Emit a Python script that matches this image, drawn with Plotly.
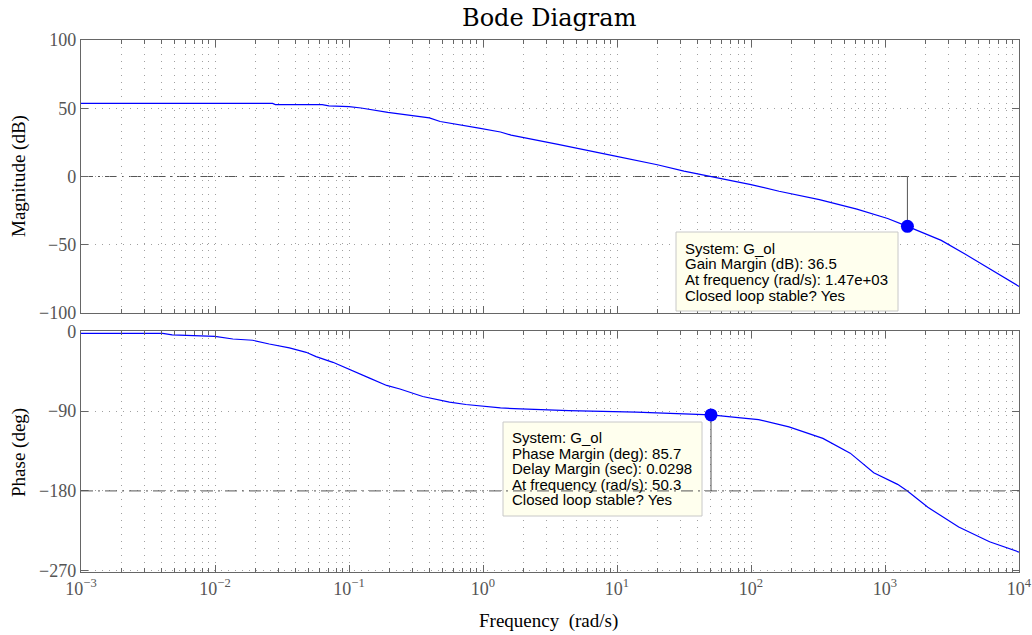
import plotly.graph_objects as go

# ---------------- data ----------------
freq_mag = [0.001, 0.0269, 0.0282, 0.0631, 0.0708, 0.1, 0.123, 0.195, 0.398, 0.479,
            0.933, 1.35, 1.62, 2.43, 3.63, 9.33, 20.0, 31.6, 56.2, 100,
            162, 324, 617, 1047, 1470, 1995, 2630, 3981, 5623, 10000]
mag_db = [53.6, 53.5, 52.7, 52.6, 51.8, 51.2, 50.2, 47.0, 42.9, 40.3,
          35.4, 32.6, 30.3, 27.1, 23.6, 15.3, 8.6, 3.9, -1.0, -5.9,
          -10.8, -17.0, -23.9, -30.8, -36.5, -41.9, -46.8, -57.0, -65.8, -80.5]

freq_phase = [0.001, 0.00407, 0.00479, 0.01, 0.0136, 0.0191, 0.0254, 0.0359, 0.0479, 0.0568,
              0.0759, 0.0977, 0.141, 0.191, 0.240, 0.355, 0.501, 0.562, 0.746, 1.0,
              1.35, 1.91, 4.35, 13.9, 25.1, 35.5, 50.3, 80.2, 114, 192,
              344, 550, 824, 1242, 1470, 2089, 2630, 3548, 6026, 10000]
phase_deg = [-2.2, -2.2, -4.0, -5.6, -8.6, -10.0, -14.2, -18.7, -23.6, -28.5,
             -34.9, -42.4, -52.5, -61.0, -65.0, -73.5, -78.0, -79.9, -82.5, -84.7,
             -86.4, -87.4, -89.3, -91.1, -92.2, -93.6, -94.3, -97.2, -99.6, -107.8,
             -120.7, -137.4, -159.6, -172.6, -180.0, -198.5, -207.8, -220.7, -237.4, -249.0]

gm_freq = [1470]
gm_db = [-36.5]
pm_freq = [50.3]
pm_phase = [-94.3]
zero_db = [0]
minus180 = [-180]

x_tickvals = [1e-3, 1e-2, 1e-1, 1e0, 1e1, 1e2, 1e3, 1e4]
x_ticktext = ["10<sup>\u22123</sup>", "10<sup>\u22122</sup>", "10<sup>\u22121</sup>",
              "10<sup>0</sup>", "10<sup>1</sup>", "10<sup>2</sup>", "10<sup>3</sup>", "10<sup>4</sup>"]
mag_ticks = [-100, -50, 0, 50, 100]
phase_ticks = [-270, -180, -90, 0]

gm_lines = ["System: G_ol", "Gain Margin (dB): 36.5",
            "At frequency (rad/s): 1.47e+03", "Closed loop stable? Yes"]
pm_lines = ["System: G_ol", "Phase Margin (deg): 85.7", "Delay Margin (sec): 0.0298",
            "At frequency (rad/s): 50.3", "Closed loop stable? Yes"]

# ---------------- layout helpers ----------------
W, H = 1032, 635
L, R, T, B = 81, 13, 40, 63
PW, PH = W - L - R, H - T - B


def pxx(x):
    return (x - L) / PW


def pxy(y):
    return (H - B - y) / PH


SERIF = "Liberation Serif, Times New Roman, serif"
SANS = "Liberation Sans, Arial, sans-serif"
BLUE = "#0000ff"
AXC = "#666666"
GRIDC = "#a0a0a0"
GRIDDASH = "1px,6px"
TICKFONT = dict(family=SERIF, size=18, color="#555555")

fig = go.Figure()

# curves
fig.add_trace(go.Scatter(x=freq_mag, y=mag_db, mode="lines",
                         line=dict(color=BLUE, width=1.2), xaxis="x", yaxis="y",
                         showlegend=False, hoverinfo="skip"))
fig.add_trace(go.Scatter(x=freq_phase, y=phase_deg, mode="lines",
                         line=dict(color=BLUE, width=1.2), xaxis="x2", yaxis="y2",
                         showlegend=False, hoverinfo="skip"))

# margin stems
fig.add_trace(go.Scatter(x=gm_freq + gm_freq, y=gm_db + zero_db, mode="lines",
                         line=dict(color="#555555", width=1), xaxis="x", yaxis="y",
                         showlegend=False, hoverinfo="skip"))
fig.add_trace(go.Scatter(x=pm_freq + pm_freq, y=pm_phase + minus180, mode="lines",
                         line=dict(color="#555555", width=1), xaxis="x2", yaxis="y2",
                         showlegend=False, hoverinfo="skip"))

# margin markers
fig.add_trace(go.Scatter(x=gm_freq, y=gm_db, mode="markers",
                         marker=dict(color=BLUE, size=13), xaxis="x", yaxis="y",
                         showlegend=False, hoverinfo="skip"))
fig.add_trace(go.Scatter(x=pm_freq, y=pm_phase, mode="markers",
                         marker=dict(color=BLUE, size=13), xaxis="x2", yaxis="y2",
                         showlegend=False, hoverinfo="skip"))

minor = dict(dtick="D1", ticks="inside", ticklen=4, tickcolor=AXC, showgrid=True,
             gridcolor=GRIDC, griddash=GRIDDASH, gridwidth=1)

xcommon = dict(type="log", range=[-3, 4], showline=True, linecolor=AXC, linewidth=1.3,
               mirror="ticks", ticks="inside", ticklen=7, tickcolor=AXC,
               tickvals=x_tickvals, ticktext=x_ticktext, tickfont=TICKFONT,
               showgrid=True, gridcolor=GRIDC, griddash=GRIDDASH, gridwidth=1,
               minor=minor, zeroline=False, automargin=False)

ycommon = dict(showline=True, linecolor=AXC, linewidth=1.3, mirror="ticks",
               ticks="inside", ticklen=7, tickcolor=AXC, tickfont=TICKFONT,
               showgrid=True, gridcolor=GRIDC, griddash=GRIDDASH, gridwidth=1,
               zeroline=False, automargin=False)

fig.update_layout(
    width=W, height=H, autosize=False,
    margin=dict(l=L, r=R, t=T, b=B, pad=0, autoexpand=False),
    paper_bgcolor="white", plot_bgcolor="white",
    xaxis=dict(xcommon, domain=[0, 1], anchor="y", showticklabels=False),
    xaxis2=dict(xcommon, domain=[0, 1], anchor="y2", matches="x"),
    yaxis=dict(ycommon, domain=[pxy(313), 1], anchor="x", range=[-100, 100],
               tickvals=mag_ticks),
    yaxis2=dict(ycommon, domain=[0, pxy(330.5)], anchor="x2", range=[-271.5, 1],
                tickvals=phase_ticks),
    showlegend=False,
)

# 0 dB and -180 deg reference lines (dash-dot)
DASHDOT = "12px,5px,2px,5px"
fig.add_shape(type="line", xref="x domain", yref="y", x0=0, x1=1, y0=zero_db[0], y1=zero_db[0],
              line=dict(color="#555555", width=1, dash=DASHDOT), layer="below")

# datatip boxes
fig.add_shape(type="rect", xref="paper", yref="paper",
              x0=pxx(676), x1=pxx(898), y0=pxy(311), y1=pxy(232),
              fillcolor="#ffffee", line=dict(color="#c8c8c8", width=1), layer="above")
fig.add_shape(type="rect", xref="paper", yref="paper",
              x0=pxx(503), x1=pxx(702), y0=pxy(516), y1=pxy(422),
              fillcolor="#ffffee", line=dict(color="#c8c8c8", width=1), layer="above")

fig.add_shape(type="line", xref="x2 domain", yref="y2", x0=0, x1=1, y0=minus180[0], y1=minus180[0],
              line=dict(color="#555555", width=1, dash=DASHDOT), layer="above")

annotations = []
for i, t in enumerate(gm_lines):
    annotations.append(dict(text=t, xref="paper", yref="paper", x=pxx(683),
                            y=pxy(248 + 15.7 * i), xanchor="left", yanchor="middle",
                            showarrow=False, font=dict(family=SANS, size=15, color="black")))
for i, t in enumerate(pm_lines):
    annotations.append(dict(text=t, xref="paper", yref="paper", x=pxx(510),
                            y=pxy(437.4 + 15.6 * i), xanchor="left", yanchor="middle",
                            showarrow=False, font=dict(family=SANS, size=15, color="black")))

# titles
annotations.append(dict(text="Bode Diagram", xref="paper", yref="paper", x=pxx(549), y=pxy(18),
                        xanchor="center", yanchor="middle", showarrow=False,
                        font=dict(family="DejaVu Serif, serif", size=24, color="black")))
annotations.append(dict(text="Magnitude (dB)", xref="paper", yref="paper", x=pxx(19), y=pxy(176),
                        xanchor="center", yanchor="middle", textangle=-90, showarrow=False,
                        font=dict(family=SERIF, size=19, color="black")))
annotations.append(dict(text="Phase (deg)", xref="paper", yref="paper", x=pxx(19), y=pxy(453),
                        xanchor="center", yanchor="middle", textangle=-90, showarrow=False,
                        font=dict(family=SERIF, size=19, color="black")))
annotations.append(dict(text="Frequency  (rad/s)", xref="paper", yref="paper", x=pxx(548), y=pxy(621),
                        xanchor="center", yanchor="middle", showarrow=False,
                        font=dict(family=SERIF, size=19, color="black")))
fig.update_layout(annotations=annotations)

fig.write_html("out.html")
